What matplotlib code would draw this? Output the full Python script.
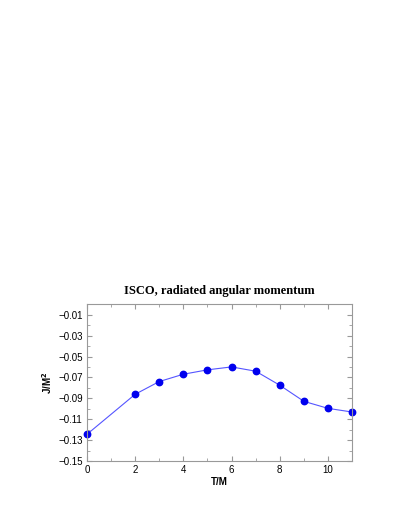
import numpy as np
import matplotlib.pyplot as plt
from matplotlib.ticker import MultipleLocator

plt.rcParams['font.family'] = ['Liberation Sans', 'DejaVu Sans']

# data
t = [0, 2, 3, 4, 5, 6, 7, 8, 9, 10, 11]
j = [-0.1244, -0.0861, -0.0739, -0.0669, -0.0627, -0.0599,
     -0.0640, -0.0774, -0.0928, -0.0995, -0.1030]

fig = plt.figure(figsize=(4.02, 5.2), dpi=100)
ax = fig.add_axes([0.216, 0.113, 0.66, 0.302])

ax.plot(t, j, '-', color='#5555ff', lw=0.8, clip_on=False)
ax.plot(t, j, 'o', color='#0000ee', ms=4.6, mec='#0000ee', clip_on=False)

ax.set_xlim(0, 11)
ax.set_ylim(-0.15, 0.0)
ax.set_yticks(np.arange(-0.15, 0.0, 0.02))
ax.yaxis.set_major_formatter(plt.FuncFormatter(lambda v, p: f'{v:.2f}'.replace('-', '\u2212')))
ax.xaxis.set_major_locator(MultipleLocator(2))
ax.xaxis.set_minor_locator(MultipleLocator(1))
ax.yaxis.set_minor_locator(MultipleLocator(0.01))

ax.tick_params(which='both', direction='in', top=True, right=True,
               color='#999999', labelsize=7, pad=3)
ax.tick_params(which='major', length=3.5)
ax.tick_params(which='minor', length=2)
for s in ax.spines.values():
    s.set_color('#999999')
    s.set_linewidth(0.8)

ax.set_xlabel('T/M', fontsize=7, fontweight='bold', labelpad=1)
ax.set_ylabel(r'J/M$^\mathbf{2}$', fontsize=7, fontweight='bold', labelpad=3)
ax.set_title('ISCO, radiated angular momentum', fontsize=9, fontweight='bold',
             family='Liberation Serif', pad=7)

fig.savefig('out.png', dpi=100)
